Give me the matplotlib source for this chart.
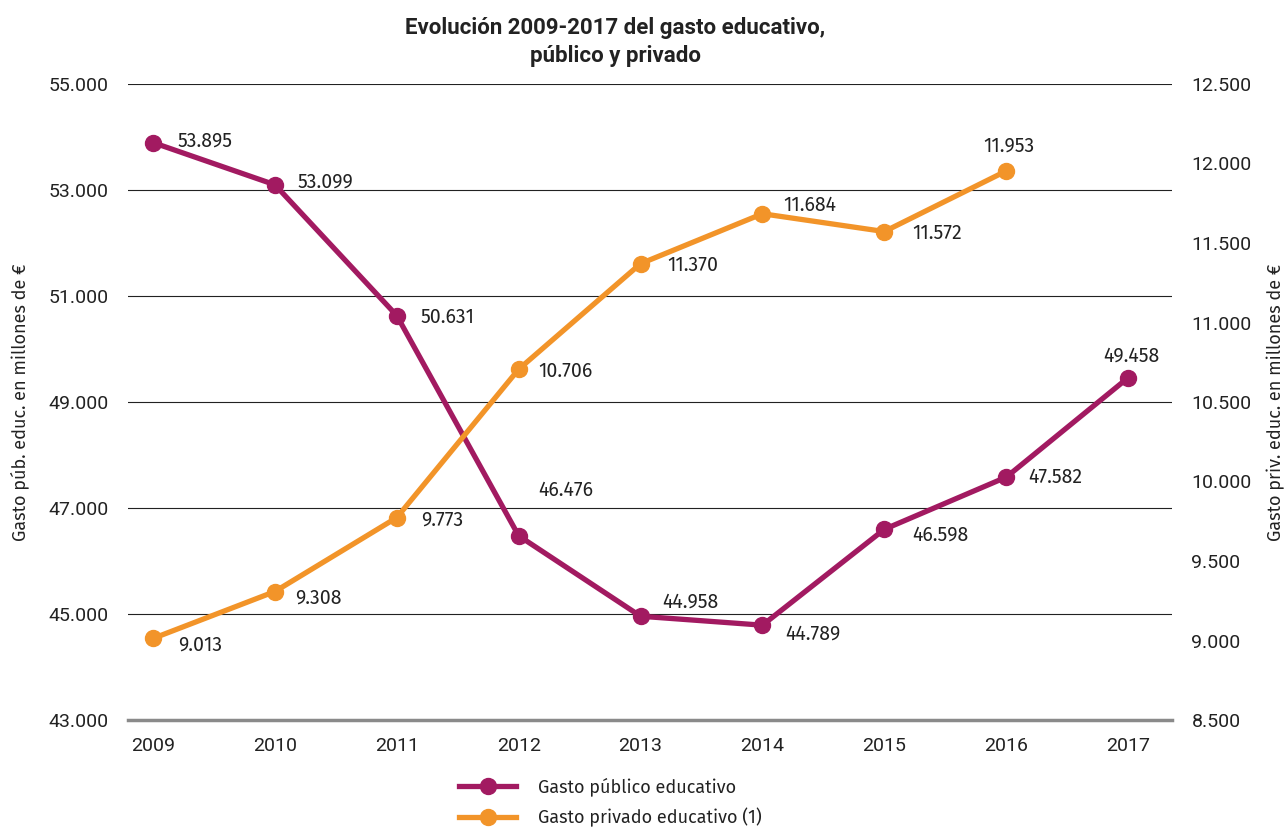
import matplotlib
matplotlib.use("Agg")
import matplotlib.pyplot as plt
from matplotlib import font_manager
from matplotlib.lines import Line2D

# --- data -------------------------------------------------------------
years = [2009, 2010, 2011, 2012, 2013, 2014, 2015, 2016, 2017]
gasto_publico = [53895, 53099, 50631, 46476, 44958, 44789, 46598, 47582, 49458]
gasto_privado = [9013, 9308, 9773, 10706, 11370, 11684, 11572, 11953]

left_ticks = [43000, 45000, 47000, 49000, 51000, 53000, 55000]
right_ticks = [8500, 9000, 9500, 10000, 10500, 11000, 11500, 12000, 12500]

title = "Evolución 2009-2017 del gasto educativo,\npúblico y privado"
ylabel_left = "Gasto púb. educ. en millones de €"
ylabel_right = "Gasto priv. educ. en millones de €"
legend_labels = ["Gasto público educativo", "Gasto privado educativo (1)"]

# label offsets (pixels) and alignment for each point label
pub_offsets = [(25, 2, "left"), (23, 3, "left"), (24, -2, "left"), (20, 45, "left"),
               (22, 14, "left"), (23, -9, "left"), (28, -6, "left"), (22, 0, "left"),
               (3, 22, "center")]
priv_offsets = [(25, -6, "left"), (20, -6, "left"), (24, -2, "left"), (20, -2, "left"),
                (27, -2, "left"), (21, 8, "left"), (28, -2, "left"), (3, 25, "center")]

PURPLE = "#A21A61"
ORANGE = "#F29429"
TEXT = "#222222"

available = {f.name for f in font_manager.fontManager.ttflist}
narrow = "Liberation Sans Narrow" if "Liberation Sans Narrow" in available else "Roboto"
regular = "Fira Sans" if "Fira Sans" in available else "Roboto"


def fmt(v):
    return f"{v:,}".replace(",", ".")


fig = plt.figure(figsize=(12.87, 8.27), dpi=100)
ax = fig.add_axes([128 / 1287, 1 - 720 / 827, (1172 - 128) / 1287, (720 - 84) / 827])
ax2 = ax.twinx()

ax.set_xlim(2008.795, 2017.36)
ax.set_ylim(43000, 55000)
ax2.set_ylim(8500, 12500)

ax.set_yticks(left_ticks)
ax.set_yticklabels([fmt(t) for t in left_ticks], fontfamily=narrow, fontsize=14)
ax2.set_yticks(right_ticks)
ax2.set_yticklabels([fmt(t) for t in right_ticks], fontfamily=narrow, fontsize=14)
ax.set_xticks(years)
ax.set_xticklabels([str(y) for y in years], fontfamily=narrow, fontsize=14)

ax.tick_params(axis="y", length=0, pad=14, colors=TEXT)
ax2.tick_params(axis="y", length=0, pad=14, colors=TEXT)
ax.tick_params(axis="x", length=0, pad=12, colors=TEXT)

for a in (ax, ax2):
    for s in a.spines.values():
        s.set_visible(False)
ax.spines["bottom"].set_visible(True)
ax.spines["bottom"].set_color("#8a8a8a")
ax.spines["bottom"].set_linewidth(2.5)

ax.yaxis.grid(True, color=TEXT, linewidth=0.8)
ax.set_axisbelow(True)

ax.set_ylabel(ylabel_left, fontfamily=regular, fontsize=13, color=TEXT)
ax2.set_ylabel(ylabel_right, fontfamily=regular, fontsize=13, color=TEXT)
ax.yaxis.set_label_coords((20 - 128) / 1044, 0.5)
ax2.yaxis.set_label_coords((1276 - 128) / 1044, 0.5)
ax2.yaxis.label.set_verticalalignment("center")
ax.yaxis.label.set_verticalalignment("center")

ax.plot(years, gasto_publico, color=PURPLE, lw=3.8, marker="o", ms=11.5, zorder=3)
ax2.plot(years[:len(gasto_privado)], gasto_privado, color=ORANGE, lw=3.8, marker="o",
         ms=11.5, zorder=3)

for x, v, (dx, dy, ha) in zip(years, gasto_publico, pub_offsets):
    ax.annotate(fmt(v), (x, v), xytext=(dx, dy), textcoords="offset pixels",
                ha=ha, va="center", fontsize=14, fontfamily=regular, color=TEXT)
for x, v, (dx, dy, ha) in zip(years, gasto_privado, priv_offsets):
    ax2.annotate(fmt(v), (x, v), xytext=(dx, dy), textcoords="offset pixels",
                 ha=ha, va="center", fontsize=14, fontfamily=regular, color=TEXT)

fig.text(615 / 1287, 1 - 42 / 827, title, ha="center", va="center", fontsize=16,
         fontweight="bold", fontfamily=narrow, color=TEXT, linespacing=1.3)

handles = [Line2D([], [], color=PURPLE, lw=3.8, marker="o", ms=11.5),
           Line2D([], [], color=ORANGE, lw=3.8, marker="o", ms=11.5)]
fig.legend(handles, legend_labels, loc="upper left",
           bbox_to_anchor=(455 / 1287, 1 - 774 / 827), frameon=False,
           prop={"family": regular, "size": 13}, handlelength=3.2,
           handletextpad=1.2, labelspacing=0.6, labelcolor=TEXT,
           borderaxespad=0, borderpad=0.2)

fig.savefig("out.png", dpi=100)
